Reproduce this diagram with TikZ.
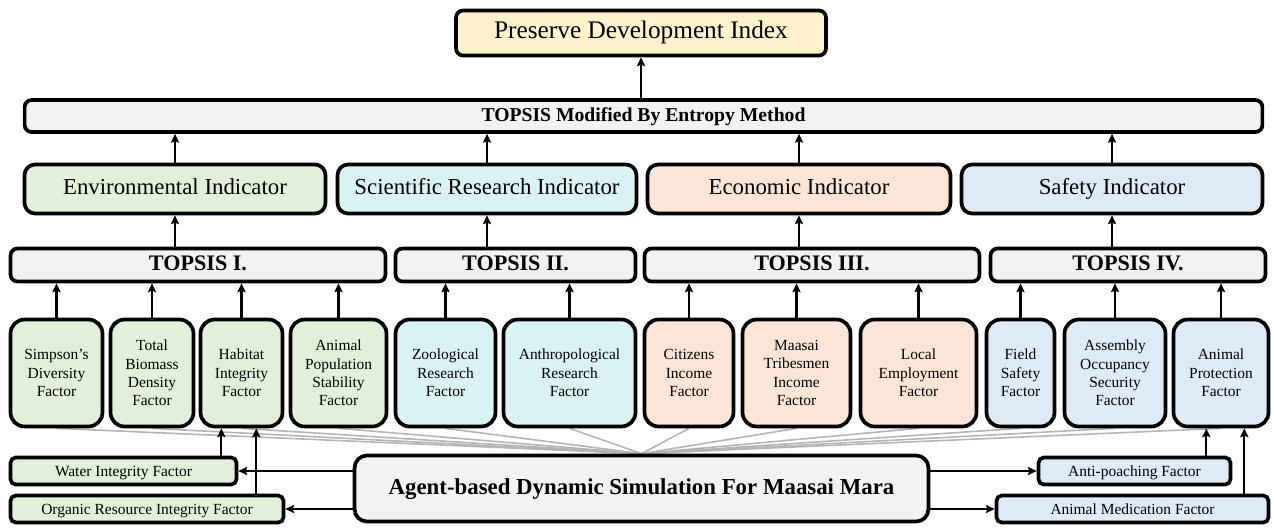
\documentclass[tikz,border=0pt]{standalone}
\usepackage{fontspec}
\setmainfont{Liberation Serif}
\usetikzlibrary{calc,backgrounds,arrows.meta}

\definecolor{idxyellow}{HTML}{FFF2CC}
\definecolor{boxgray}{HTML}{F2F2F2}
\definecolor{envgreen}{HTML}{E2F0D9}
\definecolor{scicyan}{HTML}{DAF2F3}
\definecolor{ecopeach}{HTML}{FBE5D6}
\definecolor{safblue}{HTML}{DEEBF7}
\definecolor{fangray}{HTML}{B4B4B4}

\begin{document}
\begin{tikzpicture}[x=0.02cm, y=-0.02cm, >={Stealth[length=5pt, width=4.6pt, inset=0.8pt]},
  box/.style={draw, line width=2.1pt, rounded corners=4pt, inner sep=1pt, align=center},
  oneline/.style={text height=0.7em, text depth=0.04em},
  indic/.style={box, oneline, rounded corners=6pt, minimum height=0.98cm, font=\fontsize{13}{15}\selectfont},
  topsis/.style={box, oneline, fill=boxgray, minimum height=0.66cm, font=\bfseries\fontsize{12.6}{14}\selectfont},
  factor/.style={box, rounded corners=8pt, minimum height=2.14cm, font=\fontsize{8.8}{10.5}\selectfont},
  small/.style={box, oneline, rounded corners=3pt, minimum height=0.54cm, font=\fontsize{8.8}{10.5}\selectfont},
  arr/.style={->, line width=1.3pt},
  fan/.style={draw=fangray, line width=0.9pt}]

\useasboundingbox (0,0) rectangle (1274,528);

% index and entropy level
\node[box, oneline, fill=idxyellow, minimum width=7.4cm, minimum height=0.9cm, font=\fontsize{14.4}{16}\selectfont] (pdi) at (641,33) {Preserve Development Index};
\node[box, oneline, fill=boxgray, minimum width=24.76cm, minimum height=0.64cm, font=\bfseries\fontsize{11.2}{13}\selectfont] (tme) at (643.5,116) {TOPSIS Modified By Entropy Method};

% indicators
\node[indic, fill=envgreen, minimum width=6.02cm] (env) at (175,189) {Environmental Indicator};
\node[indic, fill=scicyan,  minimum width=5.98cm] (sci) at (487,189) {Scientific Research Indicator};
\node[indic, fill=ecopeach, minimum width=6.06cm] (eco) at (799,189) {Economic Indicator};
\node[indic, fill=safblue,  minimum width=6.02cm] (saf) at (1112,189) {Safety Indicator};

% topsis
\node[topsis, minimum width=7.5cm]  (tp1) at (198,265) {TOPSIS I.};
\node[topsis, minimum width=4.8cm]  (tp2) at (515.5,265) {TOPSIS II.};
\node[topsis, minimum width=6.7cm]  (tp3) at (812,265) {TOPSIS III.};
\node[topsis, minimum width=5.5cm]  (tp4) at (1128,265) {TOPSIS IV.};

% factors
\node[factor, fill=envgreen, minimum width=1.84cm] (sim) at (56.5,373) {Simpson's\\Diversity\\Factor};
\node[factor, fill=envgreen, minimum width=1.66cm] (tbd) at (152,373) {Total\\Biomass\\Density\\Factor};
\node[factor, fill=envgreen, minimum width=1.64cm] (hab) at (241.5,373) {Habitat\\Integrity\\Factor};
\node[factor, fill=envgreen, minimum width=1.92cm] (aps) at (338.5,373) {Animal\\Population\\Stability\\Factor};
\node[factor, fill=scicyan,  minimum width=2.0cm]  (zoo) at (445.5,373) {Zoological\\Research\\Factor};
\node[factor, fill=scicyan,  minimum width=2.64cm] (ant) at (569.5,373) {Anthropological\\Research\\Factor};
\node[factor, fill=ecopeach, minimum width=1.78cm] (cit) at (689,373) {Citizens\\Income\\Factor};
\node[factor, fill=ecopeach, minimum width=2.16cm] (mts) at (796.5,373) {Maasai\\Tribesmen\\Income\\Factor};
\node[factor, fill=ecopeach, minimum width=2.32cm] (lem) at (918.5,373) {Local\\Employment\\Factor};
\node[factor, fill=safblue,  minimum width=1.36cm] (fsf) at (1020.5,373) {Field\\Safety\\Factor};
\node[factor, fill=safblue,  minimum width=2.02cm] (aos) at (1115,373) {Assembly\\Occupancy\\Security\\Factor};
\node[factor, fill=safblue,  minimum width=1.9cm]  (apf) at (1221,373) {Animal\\Protection\\Factor};

% simulation and side factors
\node[box, oneline, fill=boxgray, rounded corners=7pt, minimum width=11.48cm, minimum height=1.32cm, font=\bfseries\fontsize{13}{15}\selectfont] (agent) at (641.5,488.5) {Agent-based Dynamic Simulation For Maasai Mara};
\node[small, fill=envgreen, minimum width=4.52cm] (wif) at (123.5,471) {Water Integrity Factor};
\node[small, fill=envgreen, minimum width=5.46cm] (orf) at (147,509) {Organic Resource Integrity Factor};
\node[small, fill=safblue,  minimum width=3.84cm] (apo) at (1134.5,471) {Anti-poaching Factor};
\node[small, fill=safblue,  minimum width=5.44cm] (amf) at (1132.5,509) {Animal Medication Factor};

\begin{scope}[on background layer]
\foreach \f in {sim,tbd,hab,aps,zoo,ant,cit,mts,lem,fsf,aos,apf}
  \draw[fan] (agent.north) -- (\f.south);
\end{scope}

% arrows upward
\draw[arr] (pdi.south |- tme.north) -- (pdi.south);
\foreach \ind/\tp in {env/tp1, sci/tp2, eco/tp3, saf/tp4}{
  \draw[arr] (\ind.south |- \tp.north) -- (\ind.south);
  \draw[arr] (\ind.north) -- (\ind.north |- tme.south);
}
\foreach \f/\tp in {sim/tp1, tbd/tp1, hab/tp1, aps/tp1, zoo/tp2, ant/tp2, cit/tp3, mts/tp3, lem/tp3, fsf/tp4, aos/tp4, apf/tp4}
  \draw[arr] (\f.north) -- (\f.north |- \tp.south);

% side factors
\draw[arr] (agent.west |- wif.east) -- (wif.east);
\draw[arr] (agent.west |- orf.east) -- (orf.east);
\draw[arr] (agent.east |- apo.west) -- (apo.west);
\draw[arr] (agent.east |- amf.west) -- (amf.west);

\coordinate (w1) at ($(wif.north east)+(-17,0)$);
\coordinate (o1) at ($(orf.north east)+(-29,0)$);
\coordinate (a1) at ($(apo.north east)+(-26,0)$);
\coordinate (m1) at ($(amf.north east)+(-26,0)$);
\draw[arr] (w1) -- (w1 |- hab.south);
\draw[arr] (o1) -- (o1 |- hab.south);
\draw[arr] (a1) -- (a1 |- apf.south);
\draw[arr] (m1) -- (m1 |- apf.south);

\end{tikzpicture}
\end{document}
